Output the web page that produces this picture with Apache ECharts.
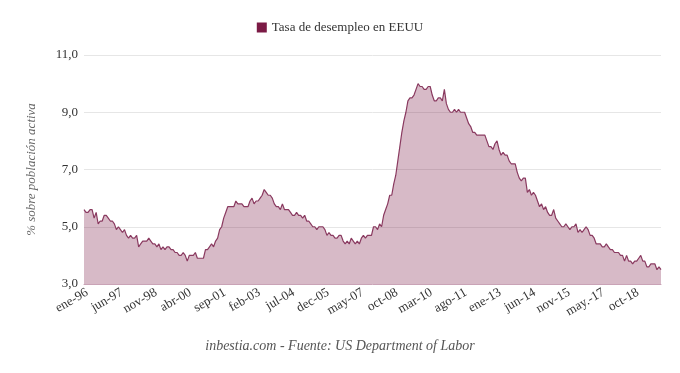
<!DOCTYPE html>
<html>
<head>
<meta charset="utf-8">
<script src="https://cdn.jsdelivr.net/npm/echarts@6/dist/echarts.min.js"></script>
<style>html,body{margin:0;padding:0;background:#fff}#c{width:680px;height:373px}</style>
</head>
<body>
<div id="c"></div>
<script>
// Monthly US unemployment rate (%), one array per year
const y1996 = [5.6,5.5,5.5,5.6,5.6,5.3,5.5,5.1,5.2,5.2,5.4,5.4];
const y1997 = [5.3,5.2,5.2,5.1,4.9,5.0,4.9,4.8,4.9,4.7,4.6,4.7];
const y1998 = [4.6,4.6,4.7,4.3,4.4,4.5,4.5,4.5,4.6,4.5,4.4,4.4];
const y1999 = [4.3,4.4,4.2,4.3,4.2,4.3,4.3,4.2,4.2,4.1,4.1,4.0];
const y2000 = [4.0,4.1,4.0,3.8,4.0,4.0,4.0,4.1,3.9,3.9,3.9,3.9];
const y2001 = [4.2,4.2,4.3,4.4,4.3,4.5,4.6,4.9,5.0,5.3,5.5,5.7];
const y2002 = [5.7,5.7,5.7,5.9,5.8,5.8,5.8,5.7,5.7,5.7,5.9,6.0];
const y2003 = [5.8,5.9,5.9,6.0,6.1,6.3,6.2,6.1,6.1,6.0,5.8,5.7];
const y2004 = [5.7,5.6,5.8,5.6,5.6,5.6,5.5,5.4,5.4,5.5,5.4,5.4];
const y2005 = [5.3,5.4,5.2,5.2,5.1,5.0,5.0,4.9,5.0,5.0,5.0,4.9];
const y2006 = [4.7,4.8,4.7,4.7,4.6,4.6,4.7,4.7,4.5,4.4,4.5,4.4];
const y2007 = [4.6,4.5,4.4,4.5,4.4,4.6,4.7,4.6,4.7,4.7,4.7,5.0];
const y2008 = [5.0,4.9,5.1,5.0,5.4,5.6,5.8,6.1,6.1,6.5,6.8,7.3];
const y2009 = [7.8,8.3,8.7,9.0,9.4,9.5,9.5,9.6,9.8,10.0,9.9,9.9];
const y2010 = [9.8,9.8,9.9,9.9,9.6,9.4,9.4,9.5,9.5,9.4,9.8,9.3];
const y2011 = [9.1,9.0,9.0,9.1,9.0,9.1,9.0,9.0,9.0,8.8,8.6,8.5];
const y2012 = [8.3,8.3,8.2,8.2,8.2,8.2,8.2,8.0,7.8,7.8,7.7,7.9];
const y2013 = [8.0,7.7,7.5,7.6,7.5,7.5,7.3,7.2,7.2,7.2,6.9,6.7];
const y2014 = [6.6,6.7,6.7,6.2,6.3,6.1,6.2,6.1,5.9,5.7,5.8,5.6];
const y2015 = [5.7,5.5,5.4,5.4,5.6,5.3,5.2,5.1,5.0,5.0,5.1,5.0];
const y2016 = [4.9,5.0,5.0,5.1,4.8,4.9,4.8,4.9,5.0,4.9,4.7];      // one month absent in the source
const y2017 = [4.7,4.6,4.4,4.4,4.4,4.3,4.3,4.4,4.3,4.2,4.2,4.1];
const y2018 = [4.1,4.1,4.0,4.0,3.8,4.0,3.8,3.8,3.7,3.8,3.8,3.9];
const y2019 = [4.0,3.8,3.8,3.6,3.6,3.7,3.7,3.7,3.5,3.6,3.5];

const years = [1996,1997,1998,1999,2000,2001,2002,2003,2004,2005,2006,2007,2008,2009,2010,2011,2012,2013,2014,2015,2016,2017,2018,2019];
const yearValues = [y1996,y1997,y1998,y1999,y2000,y2001,y2002,y2003,y2004,y2005,y2006,y2007,y2008,y2009,y2010,y2011,y2012,y2013,y2014,y2015,y2016,y2017,y2018,y2019];
const monthNames = ['ene','feb','mar','abr','may','jun','jul','ago','sep','oct','nov','dec'];
const monthNames2016 = ['ene','feb','mar','abr','may','jun','jul','ago','sep','oct','nov'];
const monthNames2017 = ['ene','feb','mar','abr','may.','jun','jul','ago','sep','oct','nov','dec'];
const yTicks = ['3,0','5,0','7,0','9,0','11,0'];

const categories = [];
const values = [];
years.forEach((yr, i) => {
  const names = yr === 2016 ? monthNames2016 : (yr === 2017 ? monthNames2017 : monthNames);
  yearValues[i].forEach((v, m) => {
    categories.push(names[m] + '-' + String(yr).slice(2));
    values.push(v);
  });
});

const chart = echarts.init(document.getElementById('c'));
const serif = '"Liberation Serif","Times New Roman",serif';
chart.setOption({
  animation: false,
  textStyle: { fontFamily: serif },
  legend: {
    top: 16, left: 'center',
    itemWidth: 10, itemHeight: 10, itemGap: 8,
    icon: 'rect',
    textStyle: { fontFamily: serif, fontSize: 13, color: '#333' },
    data: [{ name: 'Tasa de desempleo en EEUU', icon: 'rect', itemStyle: { color: '#7b1a45' } }]
  },
  grid: { left: 84, right: 19, top: 55, bottom: 89 },
  xAxis: {
    type: 'category',
    data: categories,
    boundaryGap: false,
    axisLine: { lineStyle: { color: '#c9a3b6', width: 1 } },
    axisTick: { show: false },
    axisLabel: { interval: 16, rotate: 30, margin: 2, verticalAlign: 'top', fontFamily: serif, fontSize: 13, color: '#333' }
  },
  yAxis: {
    type: 'value',
    min: 3, max: 11, interval: 2,
    name: '% sobre población activa',
    nameLocation: 'middle', nameGap: 46, nameRotate: 90,
    nameTextStyle: { fontFamily: serif, fontSize: 13, fontStyle: 'italic', color: '#666' },
    axisLine: { show: false },
    axisTick: { show: false },
    splitLine: { lineStyle: { color: '#e6e6e6', width: 1 } },
    axisLabel: {
      fontFamily: serif, fontSize: 13, color: '#333', margin: 6,
      formatter: v => yTicks[(v - 3) / 2]
    }
  },
  series: [{
    name: 'Tasa de desempleo en EEUU',
    type: 'line',
    data: values,
    symbol: 'none',
    lineStyle: { color: '#8a3a60', width: 1.2 },
    itemStyle: { color: '#7b1a45' },
    areaStyle: { color: 'rgba(123,26,69,0.3)', opacity: 1, origin: 'start' }
  }],
  graphic: [{
    type: 'text', left: 'center', top: 339,
    style: { text: 'inbestia.com - Fuente: US Department of Labor', fontFamily: serif, fontSize: 14, fontStyle: 'italic', fill: '#555' }
  }]
});
</script>
</body>
</html>
